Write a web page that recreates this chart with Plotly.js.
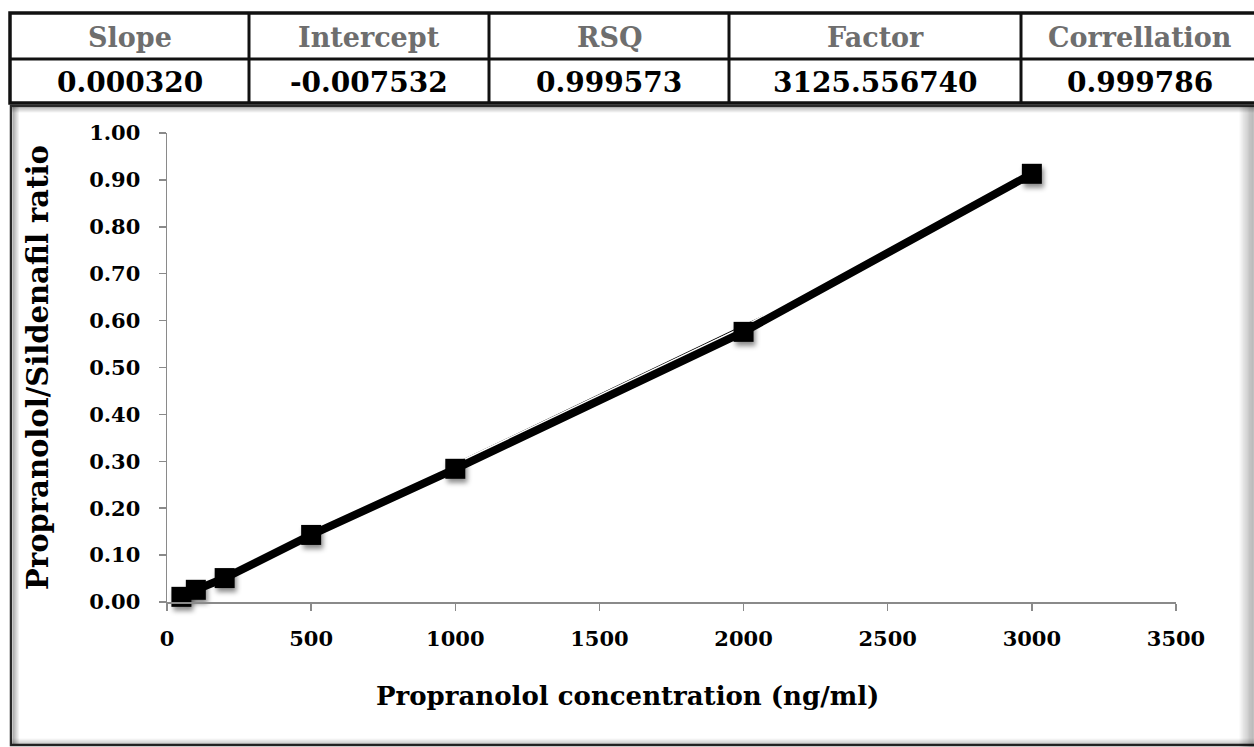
<!DOCTYPE html>
<html>
<head>
<meta charset="utf-8">
<script src="https://cdn.plot.ly/plotly-3.0.1.min.js"></script>
<style>
  html, body { margin: 0; padding: 0; background: #ffffff; }
  #chart { width: 1254px; height: 747px; }
</style>
</head>
<body>
<div id="chart"></div>
<script>
// ---- data ----
var concentrations = [50, 100, 200, 500, 1000, 2000, 3000];
var ratios = [0.011, 0.026, 0.051, 0.143, 0.284, 0.576, 0.913];
var trendX = [1000, 2300];
var trendY = [0.295, 0.678];
var tableHeaders = ['Slope', 'Intercept', 'RSQ', 'Factor', 'Correllation'];
var tableValues = ['0.000320', '-0.007532', '0.999573', '3125.556740', '0.999786'];
var xTicks = [0, 500, 1000, 1500, 2000, 2500, 3000, 3500];
var yTicks = [0, 0.1, 0.2, 0.3, 0.4, 0.5, 0.6, 0.7, 0.8, 0.9, 1.0];

// ---- geometry helpers (pixel -> paper) ----
var PL = 167, PR = 1176, PT = 133, PB = 602;
function px(x) { return (x - PL) / (PR - PL); }
function py(y) { return (PB - y) / (PB - PT); }

var FONT = '"DejaVu Serif", "Liberation Serif", serif';
var shapes = [];
var annotations = [];

// Chart frame
shapes.push({type: 'rect', xref: 'paper', yref: 'paper', x0: px(11), x1: px(1262), y0: py(106), y1: py(745),
  line: {color: '#2a2a2a', width: 2.5}, fillcolor: 'rgba(0,0,0,0)', layer: 'below'});
for (var i = 0; i < 12; i++) {
  var a = 0.03 + i * 0.025;
  shapes.push({type: 'line', xref: 'paper', yref: 'paper', x0: px(1240 + i * 1.2), x1: px(1240 + i * 1.2), y0: py(106), y1: py(747),
    line: {color: 'rgba(0,0,0,' + a.toFixed(3) + ')', width: 1.2}, layer: 'below'});
}
for (var j = 0; j < 7; j++) {
  var b = 0.03 + j * 0.04;
  shapes.push({type: 'line', xref: 'paper', yref: 'paper', x0: px(11), x1: px(1254), y0: py(739 + j), y1: py(739 + j),
    line: {color: 'rgba(0,0,0,' + b.toFixed(3) + ')', width: 1}, layer: 'below'});
}
for (var k = 0; k < 6; k++) {
  var c = 0.30 - k * 0.05;
  shapes.push({type: 'line', xref: 'paper', yref: 'paper', x0: px(13.5 + k), x1: px(13.5 + k), y0: py(107), y1: py(744),
    line: {color: 'rgba(0,0,0,' + c.toFixed(3) + ')', width: 1}, layer: 'below'});
}
for (var m = 0; m < 5; m++) {
  var d = 0.25 - m * 0.05;
  shapes.push({type: 'line', xref: 'paper', yref: 'paper', x0: px(12), x1: px(1254), y0: py(108 + m), y1: py(108 + m),
    line: {color: 'rgba(0,0,0,' + d.toFixed(3) + ')', width: 1}, layer: 'below'});
}

// Table
var colEdges = [10, 249, 489, 729, 1021, 1262];
var rowTop = 13, rowMid = 59, rowBot = 103;
shapes.push({type: 'rect', xref: 'paper', yref: 'paper', x0: px(10), x1: px(1262), y0: py(rowTop), y1: py(rowBot),
  line: {color: '#111', width: 3.5}, fillcolor: 'rgba(0,0,0,0)'});
shapes.push({type: 'line', xref: 'paper', yref: 'paper', x0: px(10), x1: px(1262), y0: py(rowMid), y1: py(rowMid),
  line: {color: '#111', width: 3}});
for (var ci = 1; ci < colEdges.length - 1; ci++) {
  shapes.push({type: 'line', xref: 'paper', yref: 'paper', x0: px(colEdges[ci]), x1: px(colEdges[ci]), y0: py(rowTop), y1: py(rowBot),
    line: {color: '#111', width: 3}});
}
var colCenters = [130, 369, 609, 875, 1140];
for (var h = 0; h < tableHeaders.length; h++) {
  annotations.push({xref: 'paper', yref: 'paper', x: px(colCenters[h]), y: py(38), text: '<b>' + tableHeaders[h] + '</b>',
    showarrow: false, xanchor: 'center', yanchor: 'middle', font: {family: FONT, size: 27, color: '#6e6e6e'}});
  annotations.push({xref: 'paper', yref: 'paper', x: px(colCenters[h]), y: py(82), text: '<b>' + tableValues[h] + '</b>',
    showarrow: false, xanchor: 'center', yanchor: 'middle', font: {family: FONT, size: 28, color: '#000'}});
}
// x-axis title (placed as in the reference, slightly left of plot centre)
annotations.push({xref: 'paper', yref: 'paper', x: px(627), y: py(696), text: '<b>Propranolol concentration (ng/ml)</b>',
  showarrow: false, xanchor: 'center', yanchor: 'middle', font: {family: FONT, size: 26, color: '#000'}});

var traces = [
  {x: trendX, y: trendY, mode: 'lines', type: 'scatter', line: {color: '#000', width: 1.3}, hoverinfo: 'skip', showlegend: false, cliponaxis: false},
  {x: concentrations, y: ratios, mode: 'lines', type: 'scatter', line: {color: '#fff', width: 11}, hoverinfo: 'skip', showlegend: false, cliponaxis: false},
  {x: concentrations, y: ratios, mode: 'lines+markers', type: 'scatter', name: 'Propranolol',
   line: {color: '#000', width: 8}, marker: {symbol: 'square', size: 20, color: '#000'}, showlegend: false, cliponaxis: false}
];

var axisFont = {family: FONT, size: 21, color: '#000', weight: 'bold'};
var layout = {
  width: 1254, height: 747,
  margin: {l: PL, r: 1254 - PR, t: PT, b: 747 - PB, pad: 0},
  paper_bgcolor: '#ffffff', plot_bgcolor: '#ffffff',
  showlegend: false,
  xaxis: {
    range: [0, 3500], tickvals: xTicks, ticktext: xTicks.map(String),
    showgrid: false, zeroline: false, showline: true, linecolor: '#8a8a8a', linewidth: 1.5,
    ticks: 'outside', ticklen: 7, tickwidth: 1.5, tickcolor: '#8a8a8a',
    tickfont: axisFont, ticklabelstandoff: 10
  },
  yaxis: {
    range: [0, 1.0], tickvals: yTicks, tickformat: '.2f',
    showgrid: false, zeroline: false, showline: true, linecolor: '#8a8a8a', linewidth: 1.5,
    ticks: 'outside', ticklen: 7, tickwidth: 1.5, tickcolor: '#8a8a8a',
    tickfont: axisFont, ticklabelstandoff: 14,
    title: {text: '<b>Propranolol/Sildenafil ratio</b>', font: {family: FONT, size: 29, color: '#000'}, standoff: 32}
  },
  shapes: shapes,
  annotations: annotations
};

Plotly.newPlot('chart', traces, layout, {displayModeBar: false, staticPlot: true}).then(function (gd) {
  // soft drop shadow under the square markers
  var svg = gd.querySelector('svg.main-svg');
  var ns = 'http://www.w3.org/2000/svg';
  var defs = svg.querySelector('defs') || svg.insertBefore(document.createElementNS(ns, 'defs'), svg.firstChild);
  var f = document.createElementNS(ns, 'filter');
  f.setAttribute('id', 'mkshadow');
  f.setAttribute('x', '-50%'); f.setAttribute('y', '-50%');
  f.setAttribute('width', '200%'); f.setAttribute('height', '200%');
  var ds = document.createElementNS(ns, 'feDropShadow');
  ds.setAttribute('dx', '2'); ds.setAttribute('dy', '4');
  ds.setAttribute('stdDeviation', '2.5');
  ds.setAttribute('flood-color', '#000'); ds.setAttribute('flood-opacity', '0.45');
  f.appendChild(ds);
  defs.appendChild(f);
  gd.querySelectorAll('.scatterlayer .trace .points path').forEach(function (p) {
    p.setAttribute('filter', 'url(#mkshadow)');
  });
});
</script>
</body>
</html>
